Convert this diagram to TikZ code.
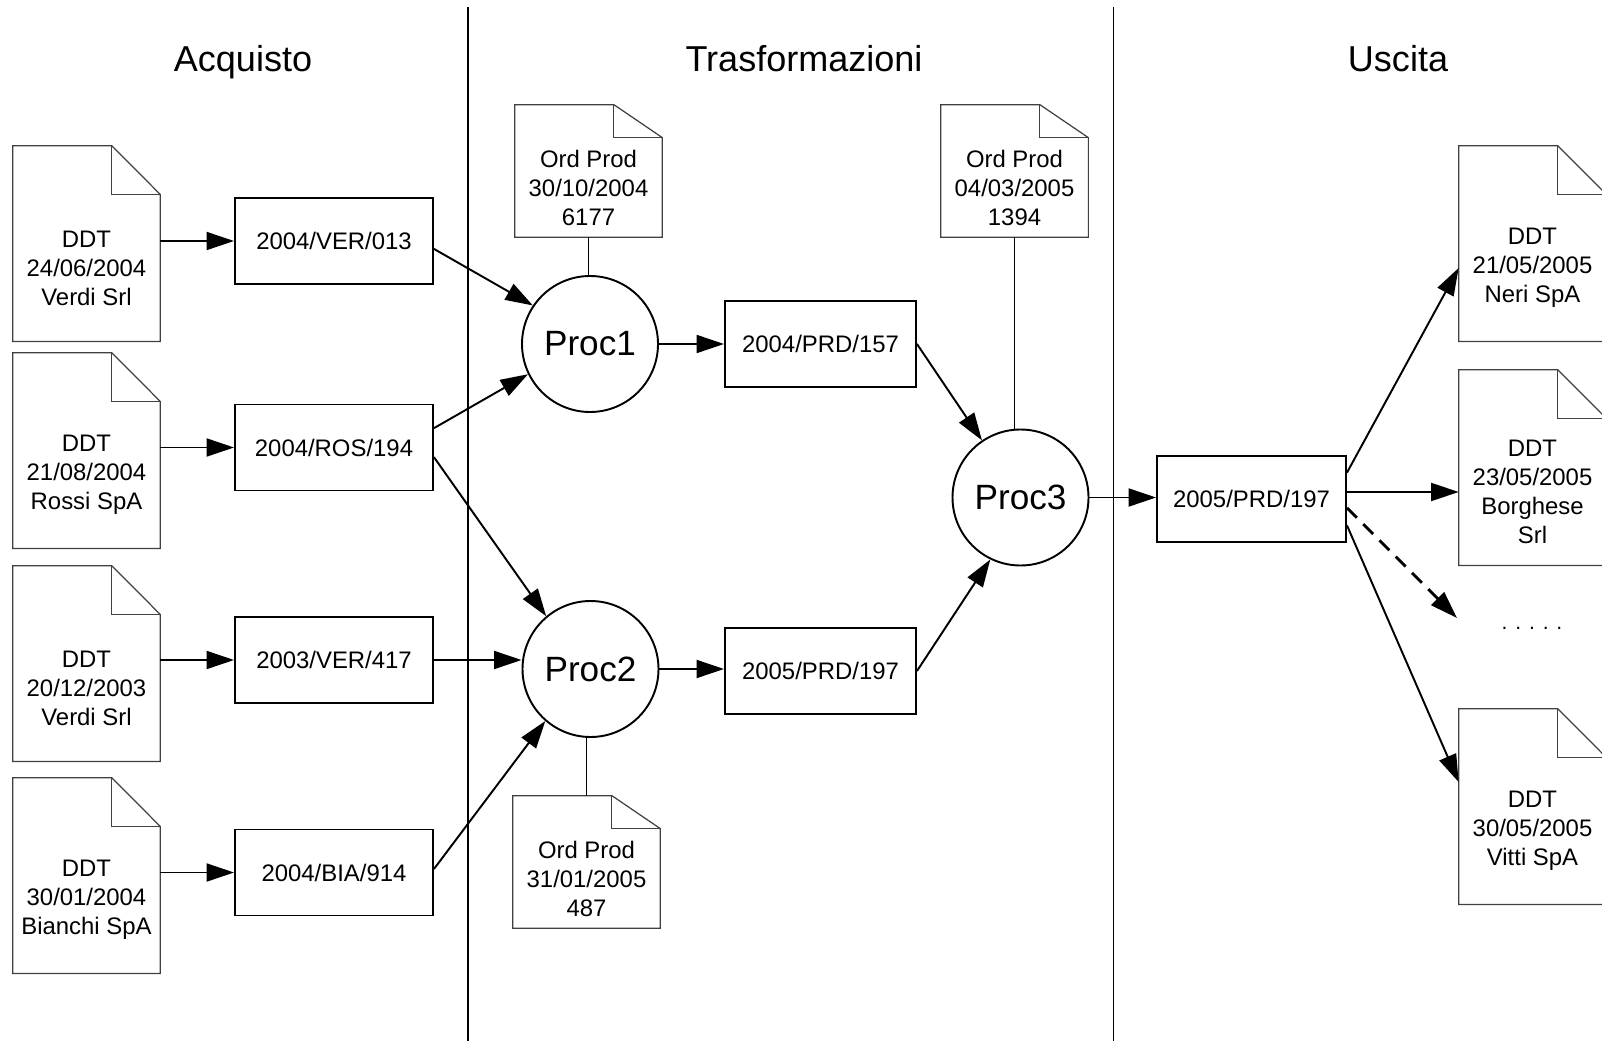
\documentclass[tikz,border=0pt]{standalone}
\usepackage{fontspec}
\setmainfont{Liberation Sans}
\usetikzlibrary{arrows.meta,calc}

\newcommand{\testo}{\fontsize{13.6}{16.5}\selectfont}
% foglio con l'angolo piegato: #1 nodo, #2 altezza della piega
\newcommand{\orecchia}[2]{%
	\draw[bordo] (#1.south west) -- ([yshift=#2]#1.north west)
		-- ([xshift=-0.97cm,yshift=#2]#1.north east) -- (#1.north east)
		-- (#1.south east) -- cycle;
	\draw[bordo] ([xshift=-0.97cm,yshift=#2]#1.north east)
		-- ([xshift=-0.97cm]#1.north east) -- (#1.north east);
}

\tikzset{
	bordo/.style={draw=black!75, line width=0.7pt},
	foglio/.style={minimum width=2.94cm, minimum height=2.925cm, inner sep=0pt, align=center, font=\testo},
	ordine/.style={foglio, minimum height=1.98cm},
	lotto/.style={draw, line width=1.1pt, minimum width=3.82cm, minimum height=1.72cm, font=\testo},
	processo/.style={circle, draw, line width=1.1pt, minimum size=2.72cm, inner sep=0pt, font=\fontsize{20}{24}\selectfont},
	titolo/.style={anchor=base, font=\fontsize{20.5}{24}\selectfont},
	linea/.style={line width=1.1pt},
	freccia/.style={linea, -{Triangle[length=0.55cm,width=0.36cm]}},
}

\begin{document}
\begin{tikzpicture}
	\useasboundingbox (0,0) rectangle (32.04,-20.82);
	% sezioni
	\draw[linea] (9.36,-0.14) -- (9.36,-20.82);
	\draw[linea] (22.27,-0.14) -- (22.27,-20.82);
	\node[titolo] (acq) at (4.86,-1.44) {Acquisto};
	\node[titolo] (tra) at (16.08,-1.44) {Trasformazioni};
	\node[titolo] (usc) at (27.96,-1.44) {Uscita};

	% Acquisto
	\node[foglio] (d1) at (1.73,-5.36) {DDT\\24/06/2004\\Verdi Srl};
	\node[foglio] (d2) at (1.73,-9.50) {DDT\\21/08/2004\\Rossi SpA};
	\node[foglio] (d3) at (1.73,-13.76) {DDT\\20/12/2003\\Verdi Srl};
	\node[foglio] (d4) at (1.73,-18.00) {DDT\\30/01/2004\\Bianchi SpA};
	\orecchia{d1}{0.975cm}
	\orecchia{d2}{0.975cm}
	\orecchia{d3}{0.975cm}
	\orecchia{d4}{0.975cm}
	\node[lotto, minimum width=3.96cm] (b1) at (6.68,-4.82) {2004/VER/013};
	\node[lotto, minimum width=3.96cm] (b2) at (6.68,-8.95) {2004/ROS/194};
	\node[lotto, minimum width=3.96cm] (b3) at (6.68,-13.20) {2003/VER/417};
	\node[lotto, minimum width=3.96cm] (b4) at (6.68,-17.45) {2004/BIA/914};
	\draw[freccia] (d1.east |- b1.west) -- (b1.west);
	\draw[freccia] (d2.east |- b2.west) -- (b2.west);
	\draw[freccia] (d3.east |- b3.west) -- (b3.west);
	\draw[freccia] (d4.east |- b4.west) -- (b4.west);

	% Trasformazioni
	\node[processo] (p1) at (11.80,-6.88) {Proc1};
	\node[processo] (p2) at (11.81,-13.38) {Proc2};
	\node[processo] (p3) at (20.41,-9.95) {Proc3};
	\node[ordine] (o1) at (11.77,-3.75) {Ord Prod\\30/10/2004\\6177};
	\node[ordine] (o2) at (20.29,-3.75) {Ord Prod\\04/03/2005\\1394};
	\node[ordine] (o3) at (11.73,-17.57) {Ord Prod\\31/01/2005\\487};
	\orecchia{o1}{0.66cm}
	\orecchia{o2}{0.66cm}
	\orecchia{o3}{0.66cm}
	\node[lotto] (m1) at (16.41,-6.88) {2004/PRD/157};
	\node[lotto] (m2) at (16.41,-13.42) {2005/PRD/197};
	\draw[freccia] ($(b1.north east)!0.59!(b1.south east)$) -- (p1.146);
	\draw[freccia] ($(b2.north east)!0.28!(b2.south east)$) -- (p1.206);
	\draw[freccia] ($(b2.north east)!0.61!(b2.south east)$) -- (p2.130);
	\draw[freccia] (b3.east) -- (p2.west |- b3.east);
	\draw[freccia] ($(b4.north east)!0.46!(b4.south east)$) -- (p2.229);
	\draw[linea] (o1.south) -- (o1.south |- p1.north);
	\draw[linea] ([yshift=0.66cm]o3.north) -- (o3.north |- p2.south);
	\draw[freccia] (p1.east) -- (m1.west);
	\draw[freccia] (p2.east) -- (m2.west |- p2.east);
	\draw[freccia] (m1.east) -- (p3.124);
	\draw[freccia] (m2.east) -- (p3.244);
	\draw[linea] (o2.south) -- (o2.south |- p3.north);

	% Uscita
	\node[lotto, minimum width=3.78cm] (r0) at (25.03,-9.98) {2005/PRD/197};
	\node[foglio] (u1) at (30.65,-5.36) {DDT\\21/05/2005\\Neri SpA};
	\node[foglio] (u2) at (30.65,-9.84) {DDT\\23/05/2005\\Borghese\\Srl};
	\node[foglio] (u3) at (30.65,-16.62) {DDT\\30/05/2005\\Vitti SpA};
	\orecchia{u1}{0.975cm}
	\orecchia{u2}{0.975cm}
	\orecchia{u3}{0.975cm}
	\node[anchor=base, font=\fontsize{12}{14}\selectfont] (altri) at (30.64,-12.58) {. . . . .};
	\coordinate (altri-in) at (29.14,-12.36);
	\draw[freccia] (p3.east) -- (r0.west |- p3.east);
	\draw[freccia] ($(r0.north east)!0.2!(r0.south east)$) -- (u1.west);
	\draw[freccia] (r0.east |- u2.west) -- (u2.west);
	\draw[freccia, line width=1.6pt, dash pattern=on 0.28cm off 0.18cm] ($(r0.north east)!0.6!(r0.south east)$) -- (altri-in);
	\draw[freccia] ($(r0.north east)!0.8!(r0.south east)$) -- ([yshift=-0.49cm]u3.north west);
\end{tikzpicture}
\end{document}
